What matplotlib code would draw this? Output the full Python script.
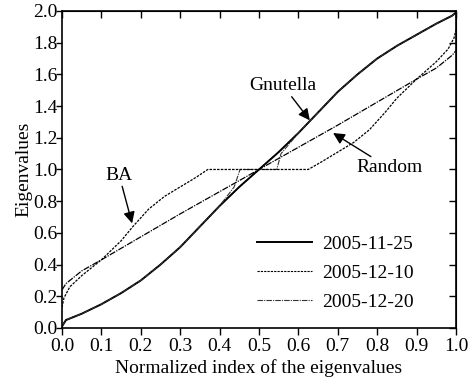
import matplotlib
matplotlib.use("Agg")
import matplotlib.pyplot as plt

# ---- data ----
dates = ["2005-11-25", "2005-12-10", "2005-12-20"]

gnu_x = [0.0, 0.01, 0.05, 0.1, 0.15, 0.2, 0.25, 0.3, 0.35, 0.4, 0.45, 0.5,
         0.55, 0.6, 0.65, 0.7, 0.75, 0.8, 0.85, 0.9, 0.95, 0.99, 1.0]
gnu_y = [0.01, 0.05, 0.09, 0.15, 0.22, 0.30, 0.40, 0.51, 0.64, 0.77, 0.89, 1.0,
         1.11, 1.23, 1.36, 1.49, 1.60, 1.70, 1.78, 1.85, 1.92, 1.97, 1.99]
# 2005-12-20 snapshot has a short plateau at eigenvalue 1
gnu3_x = [0.0, 0.01, 0.05, 0.1, 0.15, 0.2, 0.25, 0.3, 0.35, 0.4, 0.437, 0.452, 0.545,
          0.556, 0.6, 0.65, 0.7, 0.75, 0.8, 0.85, 0.9, 0.95, 0.99, 1.0]
gnu3_y = [0.01, 0.05, 0.09, 0.15, 0.22, 0.30, 0.40, 0.51, 0.64, 0.77, 0.89, 1.0, 1.0,
          1.10, 1.23, 1.36, 1.49, 1.60, 1.70, 1.78, 1.85, 1.92, 1.97, 1.99]

ba_x = [0.0, 0.005, 0.02, 0.05, 0.1, 0.15, 0.18, 0.22, 0.26, 0.3, 0.34, 0.37,
        0.625, 0.66, 0.7, 0.74, 0.78, 0.82, 0.85, 0.9, 0.95, 0.98, 0.995, 1.0]
ba_y = [0.13, 0.19, 0.26, 0.33, 0.43, 0.55, 0.64, 0.75, 0.83, 0.89, 0.95, 1.0,
        1.0, 1.05, 1.11, 1.17, 1.25, 1.36, 1.45, 1.57, 1.68, 1.76, 1.83, 1.88]

rnd_x = [0.0, 0.01, 0.05, 0.1, 0.3, 0.5, 0.7, 0.9, 0.95, 0.99, 1.0]
rnd_y = [0.24, 0.28, 0.36, 0.43, 0.72, 1.0, 1.28, 1.57, 1.64, 1.72, 1.75]

xticks = [0.0, 0.1, 0.2, 0.3, 0.4, 0.5, 0.6, 0.7, 0.8, 0.9, 1.0]
yticks = [0.0, 0.2, 0.4, 0.6, 0.8, 1.0, 1.2, 1.4, 1.6, 1.8, 2.0]

plt.rcParams['font.family'] = ['Liberation Serif', 'DejaVu Serif']
FS = 14

fig = plt.figure(figsize=(4.75, 3.92), dpi=100)
ax = fig.add_axes([0.1305, 0.1633, 0.8295, 0.8087])

styles = ['-', (0, (2, 1)), (0, (5, 1, 1, 1))]
widths = [1.4, 0.8, 0.8]

h1, = ax.plot(gnu_x, gnu_y, color='black', ls=styles[0], lw=widths[0], label=dates[0])
h2, = ax.plot(gnu_x, gnu_y, color='black', ls=styles[1], lw=widths[1], label=dates[1])
h3, = ax.plot(gnu3_x, gnu3_y, color='#333333', ls=styles[2], lw=widths[2], label=dates[2])
ax.plot(ba_x, ba_y, color='black', ls=styles[1], lw=0.9)
ax.plot(rnd_x, rnd_y, color='black', ls=styles[2], lw=0.9)

ax.set_xlim(0, 1)
ax.set_ylim(0, 2)
ax.set_xticks(xticks)
ax.set_yticks(yticks)
ax.set_xticklabels([f"{v:.1f}" for v in xticks], fontsize=FS)
ax.set_yticklabels([f"{v:.1f}" for v in yticks], fontsize=FS)
ax.tick_params(axis='x', direction='out', length=5, width=1, pad=2)
ax.tick_params(axis='y', direction='out', length=4, width=1, pad=-1)
for s in ax.spines.values():
    s.set_linewidth(1.2)

top = ax.secondary_xaxis('top')
top.set_xticks(xticks)
top.tick_params(direction='in', length=5, width=1, labeltop=False)
right = ax.secondary_yaxis('right')
right.set_yticks(yticks)
right.tick_params(direction='in', length=5, width=1, labelright=False)

ax.set_xlabel("Normalized index of the eigenvalues", fontsize=FS, labelpad=3)
ax.set_ylabel("Eigenvalues", fontsize=FS, labelpad=1)

arrow = dict(arrowstyle='-|>', color='black', lw=1.0, mutation_scale=17,
             shrinkA=0, shrinkB=0)
ax.annotate("Gnutella", xy=(0.629, 1.31), xytext=(0.561, 1.53), fontsize=FS,
            ha='center', va='center', arrowprops=arrow)
ax.annotate("Random", xy=(0.688, 1.23), xytext=(0.83, 1.01), fontsize=FS,
            ha='center', va='center', arrowprops=arrow)
ax.annotate("BA", xy=(0.178, 0.66), xytext=(0.145, 0.965), fontsize=FS,
            ha='center', va='center', arrowprops=arrow)

ax.legend(handles=[h1, h2, h3], loc='lower right', bbox_to_anchor=(0.928, 0.01),
          frameon=False, fontsize=FS, handlelength=2.8, handletextpad=0.55,
          labelspacing=0.6, borderpad=0.2)

fig.savefig("out.png", dpi=100)
